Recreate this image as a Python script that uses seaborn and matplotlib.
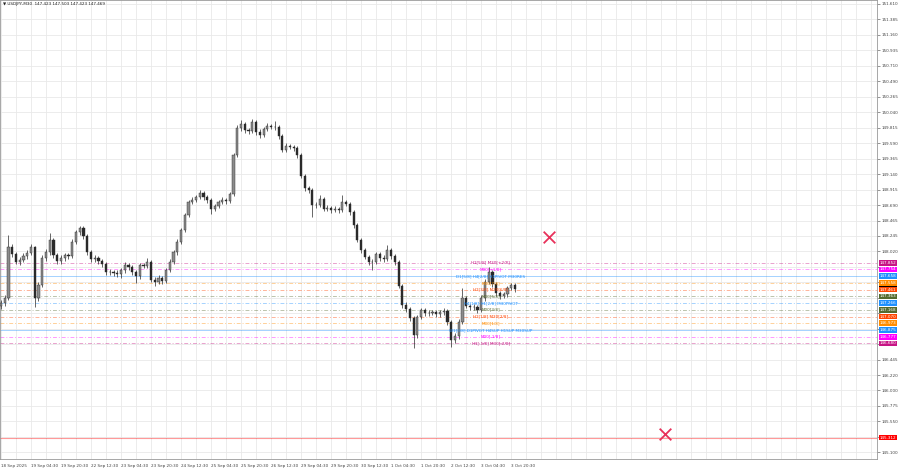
import numpy as np
import pandas as pd
import seaborn as sns
import matplotlib.pyplot as plt
import matplotlib.transforms as mtransforms

# USDJPY M30, one candle per 4 bars
closes = [147.265, 147.338, 148.079, 147.977, 147.861, 147.890, 147.948, 147.992, 148.079, 147.338,
          147.527, 147.919, 148.006, 148.181, 147.963, 147.876, 147.919, 147.963, 147.948, 148.152,
          148.297, 148.355, 148.239, 148.006, 147.905, 147.919, 147.876, 147.832, 147.716, 147.716,
          147.701, 147.687, 147.745, 147.817, 147.788, 147.716, 147.658, 147.817, 147.803, 147.861,
          147.600, 147.570, 147.629, 147.585, 147.745, 147.861, 148.006, 148.152, 148.326, 148.544,
          148.733, 148.762, 148.806, 148.864, 148.806, 148.762, 148.631, 148.675, 148.733, 148.762,
          148.748, 148.849, 149.416, 149.808, 149.866, 149.779, 149.765, 149.895, 149.750, 149.706,
          149.794, 149.837, 149.823, 149.823, 149.692, 149.489, 149.547, 149.532, 149.518, 149.416,
          149.111, 148.936, 148.907, 148.689, 148.689, 148.777, 148.631, 148.646, 148.617, 148.631,
          148.617, 148.733, 148.704, 148.588, 148.399, 148.181, 148.035, 147.934, 147.861, 147.861,
          147.977, 147.919, 147.905, 148.035, 147.948, 147.861, 147.512, 147.236, 147.178, 147.047,
          146.801, 147.062, 147.164, 147.120, 147.120, 147.135, 147.106, 147.135, 147.149, 146.989,
          146.728, 146.786, 146.989, 147.338, 147.222, 147.207, 147.207, 147.164, 147.338, 147.570,
          147.716, 147.541, 147.411, 147.367, 147.396, 147.483, 147.527, 147.469]
highs = [147.310, 147.380, 148.253, 148.120, 148.010, 147.930, 147.990, 148.040, 148.120, 148.100,
         147.570, 147.960, 148.050, 148.283, 148.210, 148.000, 147.960, 148.000, 147.990, 148.190,
         148.330, 148.384, 148.390, 148.270, 148.040, 147.960, 147.950, 147.910, 147.860, 147.760,
         147.750, 147.740, 147.780, 147.860, 147.850, 147.820, 147.750, 147.850, 147.850, 147.919,
         147.890, 147.640, 147.670, 147.660, 147.780, 147.900, 148.040, 148.190, 148.360, 148.580,
         148.770, 148.800, 148.840, 148.907, 148.890, 148.840, 148.790, 148.710, 148.770, 148.800,
         148.790, 148.880, 149.450, 149.850, 149.920, 149.900, 149.810, 149.939, 149.920, 149.790,
         149.830, 149.880, 149.870, 149.910, 149.850, 149.720, 149.590, 149.580, 149.560, 149.550,
         149.440, 149.140, 148.970, 148.940, 148.730, 148.835, 148.800, 148.690, 148.680, 148.670,
         148.660, 148.835, 148.770, 148.730, 148.620, 148.430, 148.210, 148.070, 147.960, 147.900,
         148.010, 148.010, 147.960, 148.108, 148.070, 147.980, 147.890, 147.540, 147.280, 147.210,
         147.080, 147.100, 147.200, 147.200, 147.160, 147.170, 147.170, 147.170, 147.190, 147.180,
         147.020, 146.830, 147.030, 147.483, 147.370, 147.260, 147.250, 147.240, 147.380, 147.610,
         147.788, 147.740, 147.570, 147.440, 147.430, 147.520, 147.560, 147.560]
lows = [147.180, 147.230, 147.310, 147.940, 147.830, 147.820, 147.860, 147.910, 147.960, 147.207,
        147.290, 147.500, 147.880, 147.970, 147.920, 147.840, 147.840, 147.880, 147.910, 147.920,
        148.120, 148.260, 148.200, 147.960, 147.870, 147.870, 147.840, 147.790, 147.680, 147.680,
        147.660, 147.650, 147.629, 147.710, 147.750, 147.680, 147.556, 147.620, 147.770, 147.770,
        147.570, 147.520, 147.540, 147.550, 147.560, 147.720, 147.830, 147.970, 148.120, 148.300,
        148.520, 148.700, 148.730, 148.780, 148.770, 148.720, 148.560, 148.600, 148.640, 148.700,
        148.710, 148.720, 148.820, 149.390, 149.770, 149.740, 149.720, 149.740, 149.710, 149.660,
        149.680, 149.760, 149.790, 149.780, 149.650, 149.460, 149.460, 149.500, 149.480, 149.380,
        149.080, 148.900, 148.870, 148.515, 148.650, 148.660, 148.600, 148.600, 148.580, 148.590,
        148.580, 148.590, 148.670, 148.550, 148.360, 148.150, 148.000, 147.900, 147.820, 147.745,
        147.830, 147.880, 147.870, 147.880, 147.910, 147.820, 147.480, 147.200, 147.130, 147.000,
        146.612, 146.760, 147.030, 147.080, 147.080, 147.090, 147.070, 147.070, 147.100, 146.950,
        146.626, 146.690, 146.750, 146.960, 147.190, 147.170, 147.170, 147.120, 147.130, 147.300,
        147.540, 147.500, 147.370, 147.330, 147.340, 147.360, 147.450, 147.423]
first_open = 147.220
bars_per_candle = 4

# Murrey / pivot levels
levels = [147.852, 147.754, 147.658, 147.558, 147.461, 147.363, 147.266,
          147.168, 147.070, 146.973, 146.875, 146.777, 146.680]
level_texts = ['H1[5/8] M30[+2/8]', 'M30[+1/8]', 'D1[5/8] H4[2/8] H1PIVOT M30RES',
               'M30[7/8]', 'H1[3/8] M30[6/8]', 'M30[5/8]', 'H4[1/8] H1[2/8] M30PIVOT',
               'M30[3/8]', 'H1[1/8] M30[2/8]', 'M30[1/8]',
               'W1[3/8] D1PIVOT H4SUP H1SUP M30SUP', 'M30[-1/8]', 'H1[-1/8] M30[-2/8]']
level_colors = ['#C71585', '#FF00FF', '#1E90FF', '#FF8C00', '#FF4500', '#556B2F', '#1E90FF',
                '#556B2F', '#FF4500', '#FF8C00', '#1E90FF', '#FF00FF', '#C71585']
level_solid = [False, False, True, False, False, False, False,
               False, False, False, True, False, False]
target_level = 145.312
current_price = 147.469

# cross marks (bar index, price)
mark_bars = [584, 708]
mark_prices = [148.23, 145.36]

time_labels = ['18 Sep 2025', '19 Sep 04:30', '19 Sep 20:30', '22 Sep 12:30', '23 Sep 04:30',
               '23 Sep 20:30', '24 Sep 12:30', '25 Sep 04:30', '25 Sep 20:30', '26 Sep 12:30',
               '29 Sep 04:30', '29 Sep 20:30', '30 Sep 12:30', '1 Oct 04:30', '1 Oct 20:30',
               '2 Oct 12:30', '3 Oct 04:30', '3 Oct 20:30']
price_ticks = [151.610, 151.385, 151.160, 150.935, 150.710, 150.490, 150.265, 150.040,
               149.815, 149.590, 149.365, 149.140, 148.915, 148.690, 148.465, 148.245,
               148.020, 147.795, 147.570, 147.345, 147.120, 146.895, 146.670, 146.445,
               146.220, 146.000, 145.775, 145.550, 145.325, 145.100]
# tick labels hidden behind the coloured price boxes
hidden_ticks = [147.795, 147.570, 147.345, 147.120, 146.895, 146.670, 145.325]

sns.set_theme(style='white')
plt.rcParams['font.family'] = ['DejaVu Sans']

df = pd.DataFrame({'close': closes, 'high': highs, 'low': lows})
df['open'] = [first_open] + closes[:-1]
df['bar'] = np.arange(len(df)) * bars_per_candle

fig = plt.figure(figsize=(9, 4.68), dpi=100)
ax = fig.add_axes([0.0, 0.019, 0.9745, 0.981])

# level lines
for lv, col, solid in zip(levels, level_colors, level_solid):
    ax.axhline(lv, color=col, lw=0.7, alpha=0.4, ls='-' if solid else (0, (4, 2, 1, 2)), zorder=1)
ax.axhline(target_level, color='#FF0000', lw=0.8, alpha=0.4, zorder=1)

# candles
up = df['close'] >= df['open']
ax.vlines(df['bar'], df['low'], df['high'], color='#2a2a2a', lw=0.5, zorder=3)
body_lo = df[['open', 'close']].min(axis=1)
body_h = (df['close'] - df['open']).abs()
ax.bar(df['bar'], body_h, bottom=body_lo, width=2.3,
       color=np.where(up, '#8c8c8c', '#2a2a2a'), edgecolor='#2a2a2a', lw=0.3, zorder=4)

for lv, txt, col in zip(levels, level_texts, level_colors):
    ax.text(522, lv, txt, color=col, fontsize=3, ha='center', va='center', zorder=5)

marks = pd.DataFrame({'bar': mark_bars, 'price': mark_prices})
sns.scatterplot(data=marks, x='bar', y='price', marker='x', s=70, color='#E8305A',
                linewidth=1.3, ax=ax, zorder=6, legend=False)

ax.set_xlim(-1, 934)
ax.set_ylim(145.0, 151.668)

ax.set_xticks(np.arange(len(time_labels)) * 32)
ax.set_xticklabels(time_labels, ha='left')
ax.set_xticks(np.arange(0, 934, 16), minor=True)
ax.set_yticks(price_ticks)
ax.set_yticklabels(['' if p in hidden_ticks else f'{p:.3f}' for p in price_ticks])
ax.yaxis.tick_right()
ax.tick_params(axis='both', which='major', labelsize=3, colors='#444444', length=2, width=0.4, pad=1.5)
ax.tick_params(axis='x', which='minor', length=0)
ax.grid(True, which='both', color='#e9e9e9', lw=0.6)
ax.set_axisbelow(True)
ax.set_xlabel('')
ax.set_ylabel('')
for s in ax.spines.values():
    s.set_color('#999999')
    s.set_linewidth(0.6)

# price boxes on the right
trans = mtransforms.blended_transform_factory(ax.transAxes, ax.transData)
box_prices = [current_price] + levels + [target_level]
box_colors = ['#000000'] + level_colors + ['#FF0000']
for p, c in zip(box_prices, box_colors):
    ax.text(1.003, p, f'{p:.3f}', transform=trans, fontsize=3, color='white', ha='left', va='center',
            bbox=dict(boxstyle='square,pad=0.2', fc=c, ec='none'), zorder=10, clip_on=False)

fig.text(0.003, 0.991, '\u25bc USDJPY,M30  147.423 147.503 147.423 147.469', fontsize=3,
         color='#222222', ha='left', va='center')

fig.savefig('out.png', dpi=100, facecolor='white')
